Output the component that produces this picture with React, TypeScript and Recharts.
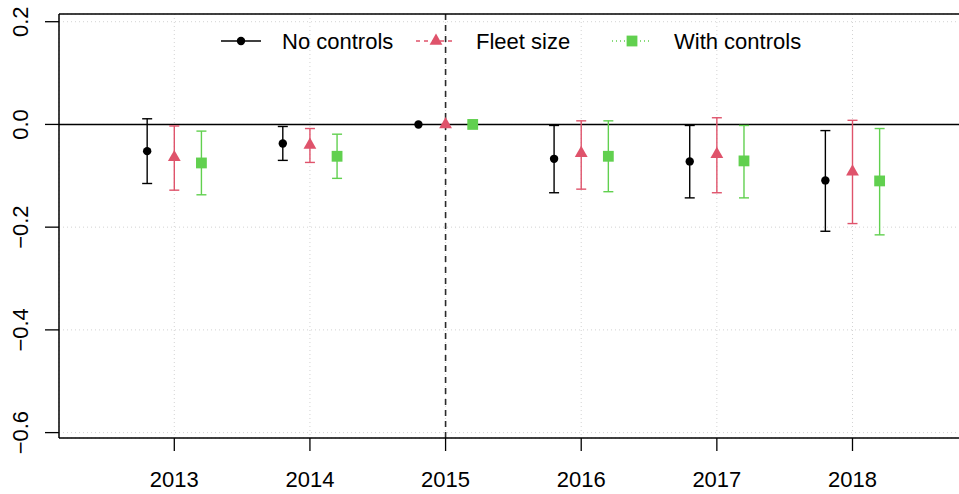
import React from 'react';
import { ScatterChart, Scatter, XAxis, YAxis, CartesianGrid, ReferenceLine, ErrorBar } from 'recharts';

const years = [2013, 2014, 2015, 2016, 2017, 2018];

const noControls = [-0.052, -0.037, 0, -0.067, -0.072, -0.109];
const noControlsLow = [-0.115, -0.070, null, -0.133, -0.143, -0.208];
const noControlsHigh = [0.011, -0.004, null, -0.002, -0.002, -0.012];

const fleetSize = [-0.064, -0.040, 0, -0.056, -0.058, -0.092];
const fleetSizeLow = [-0.128, -0.074, null, -0.126, -0.133, -0.193];
const fleetSizeHigh = [-0.003, -0.008, null, 0.007, 0.013, 0.008];

const withControls = [-0.075, -0.062, 0, -0.062, -0.071, -0.110];
const withControlsLow = [-0.137, -0.105, null, -0.131, -0.143, -0.215];
const withControlsHigh = [-0.013, -0.019, null, 0.007, -0.002, -0.008];

const xTicks = years;
const yTicks = [-0.6, -0.4, -0.2, 0, 0.2];

const X_DOMAIN: [number, number] = [2012.15, 2018.94];
const Y_DOMAIN: [number, number] = [-0.6105, 0.215];
const DODGE = 0.2;

const RED = '#DF536B';
const GREEN = '#61D04F';
const FONT = '"Liberation Sans", Arial, Helvetica, sans-serif';

function build(vals: number[], lo: (number | null)[], hi: (number | null)[], off: number) {
  return years.map((yr, i) => ({
    x: yr + off,
    y: vals[i],
    err: lo[i] == null || hi[i] == null ? undefined : [vals[i] - (lo[i] as number), (hi[i] as number) - vals[i]],
  }));
}

const dataBlack = build(noControls, noControlsLow, noControlsHigh, -DODGE);
const dataRed = build(fleetSize, fleetSizeLow, fleetSizeHigh, 0);
const dataGreen = build(withControls, withControlsLow, withControlsHigh, DODGE);

const Dot = (p: any) => <circle cx={p.cx} cy={p.cy} r={4.2} fill="#000" />;
const Tri = (p: any) => (
  <polygon
    points={`${p.cx},${p.cy - 7.4} ${p.cx - 6.4},${p.cy + 3.7} ${p.cx + 6.4},${p.cy + 3.7}`}
    fill={RED}
  />
);
const Sq = (p: any) => <rect x={p.cx - 5.4} y={p.cy - 5.4} width={10.8} height={10.8} fill={GREEN} />;

const fmtY = (v: number) => {
  const s = Math.abs(v).toFixed(1);
  return v < 0 ? '\u2212' + s : s;
};

const XTick = (p: any) => (
  <text x={p.x} y={p.y + 34} textAnchor="middle" fontSize={22} fontFamily={FONT} fill="#000">
    {p.payload.value}
  </text>
);

const YTick = (p: any) => {
  const bx = p.x - 15;
  return (
    <text
      x={bx}
      y={p.y}
      transform={`rotate(-90, ${bx}, ${p.y})`}
      textAnchor="middle"
      fontSize={22}
      fontFamily={FONT}
      fill="#000"
    >
      {fmtY(p.payload.value)}
    </text>
  );
};

const legendItems = [
  { label: 'No controls', color: '#000', dash: undefined as string | undefined, shape: 'dot', lx: 221, tx: 282 },
  { label: 'Fleet size', color: RED, dash: '4 4', shape: 'tri', lx: 416, tx: 476 },
  { label: 'With controls', color: GREEN, dash: '1 3', shape: 'sq', lx: 612, tx: 674 },
];

const LegendOverlay = () => (
  <svg
    width={959}
    height={70}
    style={{ position: 'absolute', left: 0, top: 0, pointerEvents: 'none' }}
  >
    {legendItems.map((it) => {
      const cy = 41;
      const cx = it.lx + 20;
      return (
        <g key={it.label}>
          <line x1={it.lx} x2={it.lx + 40} y1={cy} y2={cy} stroke={it.color} strokeWidth={1.4} strokeDasharray={it.dash} />
          {it.shape === 'dot' && <circle cx={cx} cy={cy} r={4.2} fill="#000" />}
          {it.shape === 'tri' && (
            <polygon points={`${cx},${cy - 7.4} ${cx - 6.4},${cy + 3.7} ${cx + 6.4},${cy + 3.7}`} fill={RED} />
          )}
          {it.shape === 'sq' && <rect x={cx - 5.4} y={cy - 5.4} width={10.8} height={10.8} fill={GREEN} />}
          <text x={it.tx} y={cy + 8} fontSize={22} fontFamily={FONT} fill="#000">
            {it.label}
          </text>
        </g>
      );
    })}
  </svg>
);

export default function App() {
  return (
    <div
      style={{
        position: 'absolute',
        left: 0,
        top: 0,
        width: 959,
        height: 494,
        overflow: 'hidden',
        background: '#fff',
      }}
    >
      <ScatterChart width={1000} height={494} margin={{ top: 14, right: 20, bottom: 0, left: 0 }}>
        <CartesianGrid stroke="#D3D3D3" strokeDasharray="1 3" strokeWidth={1} />
        <XAxis
          type="number"
          dataKey="x"
          domain={X_DOMAIN}
          ticks={xTicks}
          allowDataOverflow
          height={56}
          tickSize={13}
          tickMargin={2}
          axisLine={{ stroke: '#000', strokeWidth: 1.5 }}
          tickLine={{ stroke: '#000', strokeWidth: 1.3 }}
          tick={<XTick />}
          interval={0}
        />
        <YAxis
          type="number"
          dataKey="y"
          domain={Y_DOMAIN}
          ticks={yTicks}
          allowDataOverflow
          width={59}
          tickSize={14}
          tickMargin={2}
          axisLine={{ stroke: '#000', strokeWidth: 1.5 }}
          tickLine={{ stroke: '#000', strokeWidth: 1.3 }}
          tick={<YTick />}
          interval={0}
        />
        <ReferenceLine y={Y_DOMAIN[1]} stroke="#000" strokeWidth={1.5} />
        <ReferenceLine y={0} stroke="#000" strokeWidth={1.4} zIndex={0} />
        <ReferenceLine x={2015} stroke="#2a2a2a" strokeWidth={1.6} strokeDasharray="6 5" zIndex={0} />
        <Scatter data={dataBlack} shape={Dot} isAnimationActive={false}>
          <ErrorBar dataKey="err" direction="y" width={5} stroke="#000" strokeWidth={1.4} />
        </Scatter>
        <Scatter data={dataRed} shape={Tri} isAnimationActive={false}>
          <ErrorBar dataKey="err" direction="y" width={5} stroke={RED} strokeWidth={1.4} />
        </Scatter>
        <Scatter data={dataGreen} shape={Sq} isAnimationActive={false}>
          <ErrorBar dataKey="err" direction="y" width={5} stroke={GREEN} strokeWidth={1.4} />
        </Scatter>
      </ScatterChart>
      <LegendOverlay />
    </div>
  );
}
